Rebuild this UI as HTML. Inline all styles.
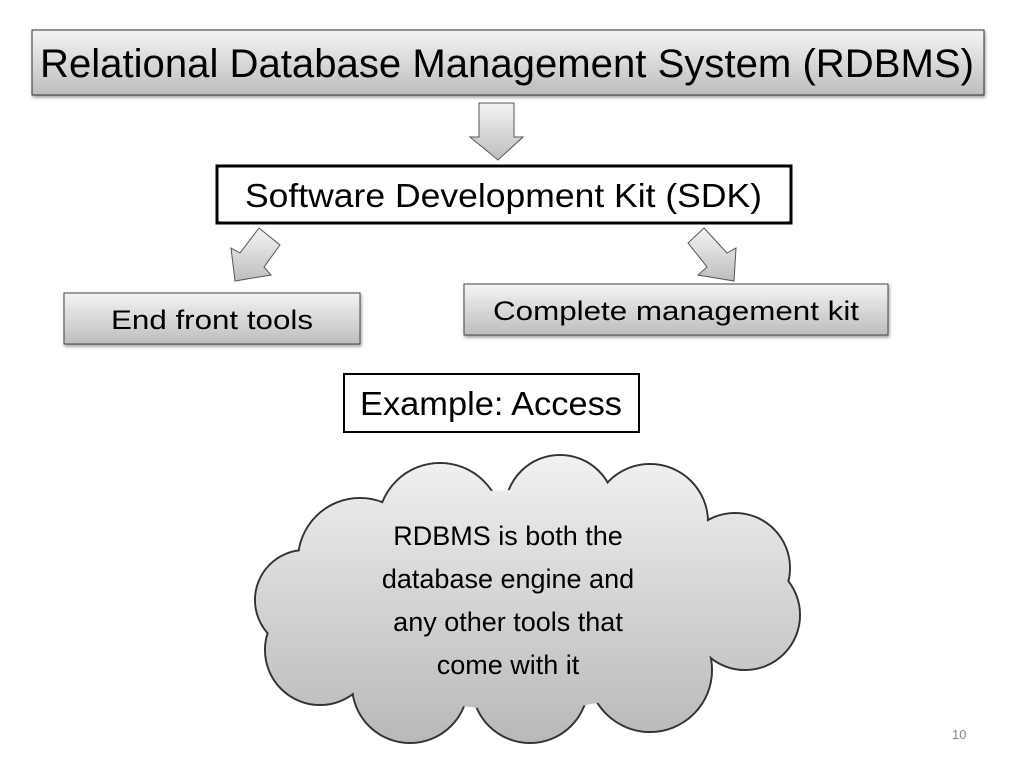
<!DOCTYPE html>
<html><head><meta charset="utf-8"><style>
body{margin:0;background:#fff;}
svg{display:block}
text{font-family:"Liberation Sans",sans-serif;fill:#000}
</style></head><body>
<svg width="1024" height="768" viewBox="0 0 1024 768" xmlns="http://www.w3.org/2000/svg">
<defs>
<linearGradient id="g" x1="0" y1="0" x2="0" y2="1">
<stop offset="0" stop-color="#f4f4f4"/><stop offset="1" stop-color="#bdbdbd"/></linearGradient>
<linearGradient id="gc" gradientUnits="userSpaceOnUse" x1="0" y1="460" x2="0" y2="740">
<stop offset="0" stop-color="#f0f0f0"/><stop offset="1" stop-color="#b9b9b9"/></linearGradient>
<filter id="sh" x="-5%" y="-10%" width="110%" height="130%"><feDropShadow dx="1" dy="2" stdDeviation="1.5" flood-color="#000" flood-opacity="0.4"/></filter>
</defs>
<!-- title -->
<rect x="32" y="30" width="952" height="65" fill="url(#g)" stroke="#333" stroke-width="1" filter="url(#sh)"/>
<text x="40" y="77" font-size="40" textLength="934" lengthAdjust="spacingAndGlyphs">Relational Database Management System (RDBMS)</text>
<!-- down arrow -->
<polygon points="479,103 514,103 514,137 523,137 498,160 470,137 479,137" fill="url(#g)" stroke="#555" stroke-width="1"/>
<!-- SDK -->
<rect x="217" y="166" width="574" height="57" fill="#fff" stroke="#000" stroke-width="3"/>
<text x="245" y="207" font-size="33" textLength="517" lengthAdjust="spacingAndGlyphs">Software Development Kit (SDK)</text>
<!-- side arrows -->
<polygon points="259,228 280,245 264,267 271,275 235,281 231,248 240,253" fill="url(#g)" stroke="#555" stroke-width="1"/>
<polygon points="704,228 688,243 707,267 698,275 734,281 736,248 727,253" fill="url(#g)" stroke="#555" stroke-width="1"/>
<!-- boxes -->
<rect x="64" y="293" width="296" height="51" fill="url(#g)" stroke="#444" stroke-width="1" filter="url(#sh)"/>
<text x="212" y="329" font-size="27" text-anchor="middle" textLength="202" lengthAdjust="spacingAndGlyphs">End front tools</text>
<rect x="464" y="284" width="424" height="51" fill="url(#g)" stroke="#444" stroke-width="1" filter="url(#sh)"/>
<text x="676" y="320" font-size="27" text-anchor="middle" textLength="366" lengthAdjust="spacingAndGlyphs">Complete management kit</text>
<rect x="344" y="374" width="295" height="58" fill="#fff" stroke="#000" stroke-width="2"/>
<text x="491" y="415" font-size="33" text-anchor="middle" textLength="262" lengthAdjust="spacingAndGlyphs">Example: Access</text>
<!-- cloud -->
<g stroke="#333" stroke-width="2" fill="url(#gc)">
<circle cx="360" cy="560" r="62"/><circle cx="440" cy="525" r="62"/><circle cx="560" cy="510" r="55"/>
<circle cx="650" cy="522" r="58"/><circle cx="735" cy="568" r="55"/><circle cx="745" cy="615" r="55"/>
<circle cx="650" cy="670" r="62"/><circle cx="530" cy="685" r="58"/><circle cx="410" cy="685" r="58"/>
<circle cx="320" cy="650" r="55"/><circle cx="305" cy="600" r="50"/>
</g>
<g fill="url(#gc)">
<circle cx="360" cy="560" r="61"/><circle cx="440" cy="525" r="61"/><circle cx="560" cy="510" r="54"/>
<circle cx="650" cy="522" r="57"/><circle cx="735" cy="568" r="54"/><circle cx="745" cy="615" r="54"/>
<circle cx="650" cy="670" r="61"/><circle cx="530" cy="685" r="57"/><circle cx="410" cy="685" r="57"/>
<circle cx="320" cy="650" r="54"/><circle cx="305" cy="600" r="49"/>
<ellipse cx="520" cy="600" rx="220" ry="110"/>
</g>
<g font-size="27" text-anchor="middle">
<text x="508" y="545">RDBMS is both the</text>
<text x="508" y="588">database engine and</text>
<text x="508" y="631">any other tools that</text>
<text x="508" y="674">come with it</text>
</g>
<text x="952" y="739" font-size="13" fill="#888" style="fill:#888">10</text>
</svg>
</body></html>
